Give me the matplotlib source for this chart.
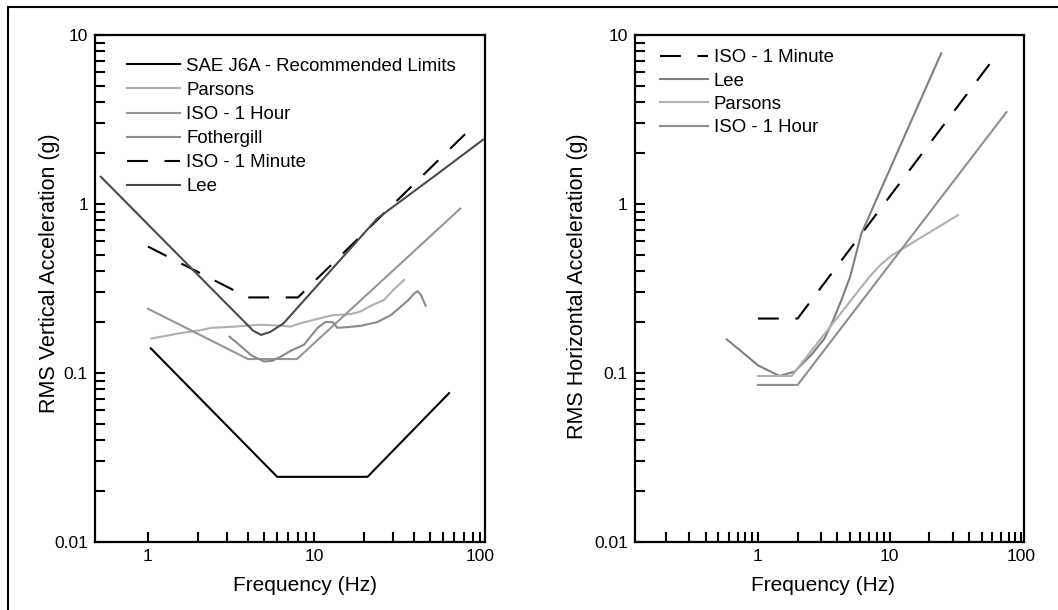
import matplotlib
matplotlib.use("Agg")
import matplotlib.pyplot as plt
from matplotlib.patches import Rectangle
from matplotlib.ticker import FixedLocator, FixedFormatter, NullFormatter
import numpy as np

plt.rcParams['font.family'] = ['Liberation Sans', 'DejaVu Sans']

# ---------------- data: vertical (left panel) ----------------
sae_f = [1.04, 6.0, 21.0, 65.0]
sae_y = [0.14, 0.0243, 0.0243, 0.076]

parsons_v_f = [1.05, 1.56, 2.06, 2.4, 3.3, 4.75, 6.6, 7.2, 8.3, 10.9, 13.0, 16.6, 19.0, 22.0, 26.3, 30.0, 34.8]
parsons_v_y = [0.16, 0.172, 0.179, 0.185, 0.188, 0.193, 0.19, 0.188, 0.197, 0.211, 0.22, 0.223, 0.231, 0.25, 0.27, 0.31, 0.355]

iso1h_v_f = [1.0, 4.0, 7.9, 76.0]
iso1h_v_y = [0.24, 0.121, 0.121, 0.94]

fother_f = [3.1, 3.6, 4.2, 5.0, 5.6, 6.3, 7.2, 8.7, 10.5, 11.7, 13.0, 13.8, 16.0, 19.0, 24.0, 29.0, 33.0, 37.0, 40.0, 42.0, 44.0, 47.0]
fother_y = [0.164, 0.145, 0.127, 0.117, 0.118, 0.125, 0.135, 0.147, 0.185, 0.2, 0.2, 0.185, 0.187, 0.19, 0.2, 0.22, 0.245, 0.27, 0.295, 0.305, 0.29, 0.25]

iso1m_v_f = [1.0, 4.0, 8.0, 88.0]
iso1m_v_y = [0.56, 0.28, 0.28, 2.8]

lee_v_f = [0.52, 4.3, 4.8, 5.45, 6.56, 24.0, 55.0, 104.0]
lee_v_y = [1.45, 0.178, 0.168, 0.175, 0.197, 0.82, 1.5, 2.4]

# ---------------- data: horizontal (right panel) ----------------
iso1m_h_f = [1.0, 2.0, 62.0]
iso1m_h_y = [0.21, 0.21, 7.3]

lee_h_f = [0.58, 0.75, 1.0, 1.46, 1.9, 2.54, 3.2, 3.73, 4.3, 5.0, 6.1, 24.6]
lee_h_y = [0.158, 0.134, 0.111, 0.096, 0.102, 0.128, 0.16, 0.206, 0.27, 0.37, 0.67, 7.8]

parsons_h_f = [1.0, 1.8, 7.0, 8.6, 10.5, 33.0]
parsons_h_y = [0.096, 0.096, 0.37, 0.44, 0.5, 0.86]

iso1h_h_f = [1.0, 2.0, 77.0]
iso1h_h_y = [0.085, 0.085, 3.5]

# ---------------- ticks ----------------
xtick_vals = [1, 10, 100]
xtick_labels = ['1', '10', '100']
ytick_vals = [0.01, 0.1, 1, 10]
ytick_labels = ['0.01', '0.1', '1', '10']

fig = plt.figure(figsize=(10.58, 6.10), dpi=100)
W, H = 1058.0, 610.0

def px_axes(x0, x1, ytop, ybot):
    return [x0 / W, 1 - ybot / H, (x1 - x0) / W, (ybot - ytop) / H]

axL = fig.add_axes(px_axes(95, 485, 35, 542))
axR = fig.add_axes(px_axes(634.7, 1023.7, 35, 542))

LW = 1.5
DASH = (10, 8)

axL.plot(sae_f, sae_y, color='black', lw=LW, label='SAE J6A - Recommended Limits')
axL.plot(parsons_v_f, parsons_v_y, color='#b0b0b0', lw=LW, label='Parsons')
axL.plot(iso1h_v_f, iso1h_v_y, color='#969696', lw=LW, label='ISO - 1 Hour')
axL.plot(fother_f, fother_y, color='#8a8a8a', lw=LW, label='Fothergill')
axL.plot(iso1m_v_f, iso1m_v_y, color='black', lw=LW, dashes=DASH, label='ISO - 1 Minute')
axL.plot(lee_v_f, lee_v_y, color='#4a4a4a', lw=LW, label='Lee')

axR.plot(iso1m_h_f, iso1m_h_y, color='black', lw=LW, dashes=DASH, label='ISO - 1 Minute')
axR.plot(lee_h_f, lee_h_y, color='#7f7f7f', lw=LW, label='Lee')
axR.plot(parsons_h_f, parsons_h_y, color='#b0b0b0', lw=LW, label='Parsons')
axR.plot(iso1h_h_f, iso1h_h_y, color='#8f8f8f', lw=LW, label='ISO - 1 Hour')

for ax, xlim, xminor in [
    (axL, (0.48, 107), [m * 10.0 ** d for d in (0, 1) for m in range(2, 10)]),
    (axR, (0.116, 104), [m * 10.0 ** d for d in (-1, 0, 1) for m in range(2, 10)]),
]:
    ax.set_xscale('log')
    ax.set_yscale('log')
    ax.set_xlim(*xlim)
    ax.set_ylim(0.01, 10)
    ax.xaxis.set_major_locator(FixedLocator(xtick_vals))
    ax.xaxis.set_major_formatter(FixedFormatter(xtick_labels))
    ax.xaxis.set_minor_locator(FixedLocator(xminor))
    ax.xaxis.set_minor_formatter(NullFormatter())
    ax.yaxis.set_major_locator(FixedLocator(ytick_vals))
    ax.yaxis.set_major_formatter(FixedFormatter(ytick_labels))
    ax.yaxis.set_minor_locator(FixedLocator([m * 10.0 ** d for d in (-2, -1, 0) for m in range(2, 10)]))
    ax.yaxis.set_minor_formatter(NullFormatter())
    ax.tick_params(which='both', direction='in', length=7.5, width=1.5,
                   top=False, right=False, labelsize=12.6, pad=5)
    for sp in ax.spines.values():
        sp.set_linewidth(1.6)

axL.set_xlabel('Frequency (Hz)', fontsize=15)
axL.set_ylabel('RMS Vertical Acceleration (g)', fontsize=15.5)
axR.set_xlabel('Frequency (Hz)', fontsize=15)
axR.set_ylabel('RMS Horizontal Acceleration (g)', fontsize=15.5)

axL.xaxis.set_label_coords(0.538, -0.067)
axR.xaxis.set_label_coords(0.485, -0.067)
axL.yaxis.set_label_coords(-0.09, 0.53)
axR.yaxis.set_label_coords(-0.12, 0.505)

axL.legend(loc='upper left', bbox_to_anchor=(0.081, 0.955), frameon=False,
           fontsize=13.4, handlelength=2.85, handletextpad=0.36,
           labelspacing=0.38, borderpad=0, borderaxespad=0)
axR.legend(loc='upper left', bbox_to_anchor=(0.065, 0.972), frameon=False,
           fontsize=13.4, handlelength=2.6, handletextpad=0.28,
           labelspacing=0.34, borderpad=0, borderaxespad=0)

fig.add_artist(Rectangle((8 / W, -0.1), 1.2, 1.1 - 7 / H, transform=fig.transFigure,
                         fill=False, edgecolor='black', lw=1.5, clip_on=False))

fig.savefig('out.png', dpi=100)
